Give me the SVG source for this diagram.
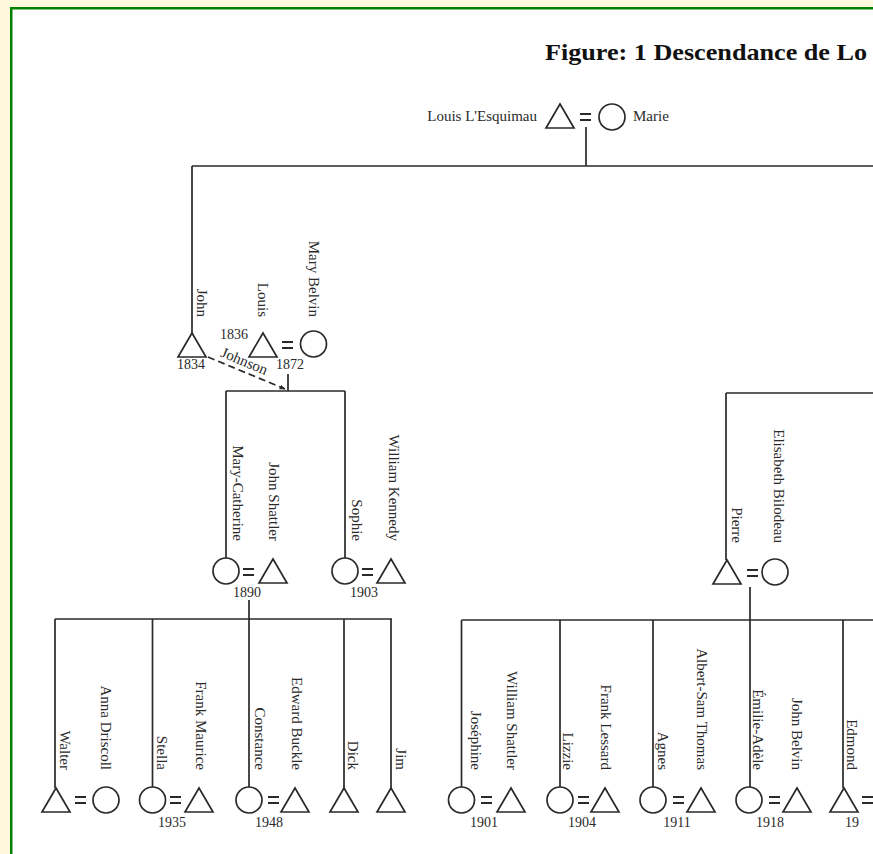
<svg xmlns="http://www.w3.org/2000/svg" width="873" height="854" viewBox="0 0 873 854">
<style>
.ln{stroke:#2a2a2a;stroke-width:1.7;fill:none}
.sym{stroke:#2a2a2a;stroke-width:1.7;fill:#fff}
.eq{stroke:#2a2a2a;stroke-width:2;fill:none}
.nm{font-family:"Liberation Serif","Times New Roman",serif;font-size:15px;fill:#2a2a2a}
.v{text-anchor:end}
.yr{font-family:"Liberation Serif","Times New Roman",serif;font-size:14px;fill:#2a2a2a;text-anchor:middle}
.title{font-family:"Liberation Serif","Times New Roman",serif;font-size:24px;font-weight:bold;fill:#111}
</style>
<defs>
<path id="tri" d="M0,0 L14,24 L-14,24 Z"/>
<circle id="cir" r="13"/>
<path id="eqs" d="M0,0h11M0,6h11"/>
<marker id="ah" viewBox="0 0 10 10" refX="9" refY="5" markerWidth="6" markerHeight="6" orient="auto" markerUnits="userSpaceOnUse">
<path d="M0,1 L10,5 L0,9 Z" fill="#2a2a2a"/>
</marker>
</defs>
<rect x="0" y="0" width="873" height="854" fill="#fff8dc"/>
<rect x="10" y="7" width="880" height="870" fill="#008000"/>
<rect x="12.5" y="9.5" width="880" height="870" fill="#fff"/>
<text class="title" x="545" y="60" textLength="322" lengthAdjust="spacingAndGlyphs">Figure: 1 Descendance de Lo</text>

<g id="connectors">
<path class="ln" d="M586,127V166M192,166H873M192,166V333"/>
<path class="ln" d="M288,374V391M226,391H345M226,391V558M345,391V558"/>
<path class="ln" stroke-dasharray="7,4" d="M208,357L285,389" marker-end="url(#ah)"/>
<path class="ln" d="M726,393H873M726,393V560"/>
<path class="ln" d="M249,600V787M55,619H392M55,619V788M152.5,619V787M344,619V788M391,619V788"/>
<path class="ln" d="M750,587V787M461.5,620H873M461.5,620V787M560,620V787M653,620V787M843,620V788"/>
<text class="nm" font-size="13" text-anchor="middle" transform="translate(244,362) rotate(22.5)" y="4">Johnson</text>
</g>

<g id="couple-louis-marie">
<text class="nm" x="537" y="121" text-anchor="end">Louis L'Esquimau</text>
<use href="#tri" class="sym" x="560" y="104"/>
<use href="#eqs" class="eq" x="580" y="114"/>
<use href="#cir" class="sym" x="612" y="117"/>
<text class="nm" x="633" y="121">Marie</text>
</g>

<g id="john">
<text class="nm v" transform="translate(202,317) rotate(90)" y="5">John</text>
<use href="#tri" class="sym" x="192" y="333"/>
<text class="yr" x="191" y="369">1834</text>
</g>

<g id="couple-louis-mary">
<text class="nm v" transform="translate(263,317) rotate(90)" y="5">Louis</text>
<text class="nm v" transform="translate(314,317) rotate(90)" y="5">Mary Belvin</text>
<text class="yr" x="234" y="339">1836</text>
<use href="#tri" class="sym" x="263" y="333"/>
<use href="#eqs" class="eq" x="282" y="342"/>
<use href="#cir" class="sym" x="313.5" y="344"/>
<text class="yr" x="290" y="369">1872</text>
</g>

<g id="couple-marycatherine">
<text class="nm v" transform="translate(238,541) rotate(90)" y="5">Mary-Catherine</text>
<text class="nm v" transform="translate(274,541) rotate(90)" y="5">John Shattler</text>
<use href="#cir" class="sym" x="226" y="571"/>
<use href="#eqs" class="eq" x="243" y="569"/>
<use href="#tri" class="sym" x="273" y="559"/>
<text class="yr" x="247" y="597">1890</text>
</g>

<g id="couple-sophie">
<text class="nm v" transform="translate(357,541) rotate(90)" y="5">Sophie</text>
<text class="nm v" transform="translate(394,541) rotate(90)" y="5">William Kennedy</text>
<use href="#cir" class="sym" x="345" y="571"/>
<use href="#eqs" class="eq" x="362" y="569"/>
<use href="#tri" class="sym" x="391" y="559"/>
<text class="yr" x="364" y="597">1903</text>
</g>

<g id="couple-pierre">
<text class="nm v" transform="translate(737,543) rotate(90)" y="5">Pierre</text>
<text class="nm v" transform="translate(779,543) rotate(90)" y="5">Elisabeth Bilodeau</text>
<use href="#tri" class="sym" x="727" y="560"/>
<use href="#eqs" class="eq" x="747" y="570"/>
<use href="#cir" class="sym" x="775" y="572"/>
</g>

<g id="couple-walter">
<text class="nm v" transform="translate(65,770) rotate(90)" y="5">Walter</text>
<text class="nm v" transform="translate(106,770) rotate(90)" y="5">Anna Driscoll</text>
<use href="#tri" class="sym" x="56" y="788"/>
<use href="#eqs" class="eq" x="75" y="797"/>
<use href="#cir" class="sym" x="106" y="800"/>
</g>

<g id="couple-stella">
<text class="nm v" transform="translate(162,770) rotate(90)" y="5">Stella</text>
<text class="nm v" transform="translate(201,770) rotate(90)" y="5">Frank Maurice</text>
<use href="#cir" class="sym" x="152.5" y="800"/>
<use href="#eqs" class="eq" x="170" y="797"/>
<use href="#tri" class="sym" x="199" y="788"/>
<text class="yr" x="172" y="827">1935</text>
</g>

<g id="couple-constance">
<text class="nm v" transform="translate(260,770) rotate(90)" y="5">Constance</text>
<text class="nm v" transform="translate(297,770) rotate(90)" y="5">Edward Buckle</text>
<use href="#cir" class="sym" x="249" y="800"/>
<use href="#eqs" class="eq" x="268" y="797"/>
<use href="#tri" class="sym" x="295" y="788"/>
<text class="yr" x="269" y="827">1948</text>
</g>

<g id="dick">
<text class="nm v" transform="translate(353,770) rotate(90)" y="5">Dick</text>
<use href="#tri" class="sym" x="344" y="788"/>
</g>

<g id="jim">
<text class="nm v" transform="translate(401,770) rotate(90)" y="5">Jim</text>
<use href="#tri" class="sym" x="391" y="788"/>
</g>

<g id="couple-josephine">
<text class="nm v" transform="translate(476,770) rotate(90)" y="5">Joséphine</text>
<text class="nm v" transform="translate(512,770) rotate(90)" y="5">William Shattler</text>
<use href="#cir" class="sym" x="461.5" y="800"/>
<use href="#eqs" class="eq" x="481" y="797"/>
<use href="#tri" class="sym" x="511" y="788"/>
<text class="yr" x="484" y="827">1901</text>
</g>

<g id="couple-lizzie">
<text class="nm v" transform="translate(568,770) rotate(90)" y="5">Lizzie</text>
<text class="nm v" transform="translate(606,770) rotate(90)" y="5">Frank Lessard</text>
<use href="#cir" class="sym" x="560" y="800"/>
<use href="#eqs" class="eq" x="578" y="797"/>
<use href="#tri" class="sym" x="605" y="788"/>
<text class="yr" x="582" y="827">1904</text>
</g>

<g id="couple-agnes">
<text class="nm v" transform="translate(663,770) rotate(90)" y="5">Agnes</text>
<text class="nm v" transform="translate(702,770) rotate(90)" y="5">Albert-Sam Thomas</text>
<use href="#cir" class="sym" x="653" y="800"/>
<use href="#eqs" class="eq" x="673" y="797"/>
<use href="#tri" class="sym" x="701" y="788"/>
<text class="yr" x="677" y="827">1911</text>
</g>

<g id="couple-emilie">
<text class="nm v" transform="translate(758,770) rotate(90)" y="5">Émilie-Adèle</text>
<text class="nm v" transform="translate(797,770) rotate(90)" y="5">John Belvin</text>
<use href="#cir" class="sym" x="749" y="800"/>
<use href="#eqs" class="eq" x="769" y="797"/>
<use href="#tri" class="sym" x="797" y="788"/>
<text class="yr" x="770" y="827">1918</text>
</g>

<g id="edmond">
<text class="nm v" transform="translate(852,770) rotate(90)" y="5">Edmond</text>
<use href="#tri" class="sym" x="844" y="788"/>
<use href="#eqs" class="eq" x="862" y="797"/>
<text class="yr" x="852" y="827" text-anchor="start">19</text>
</g>
</svg>
